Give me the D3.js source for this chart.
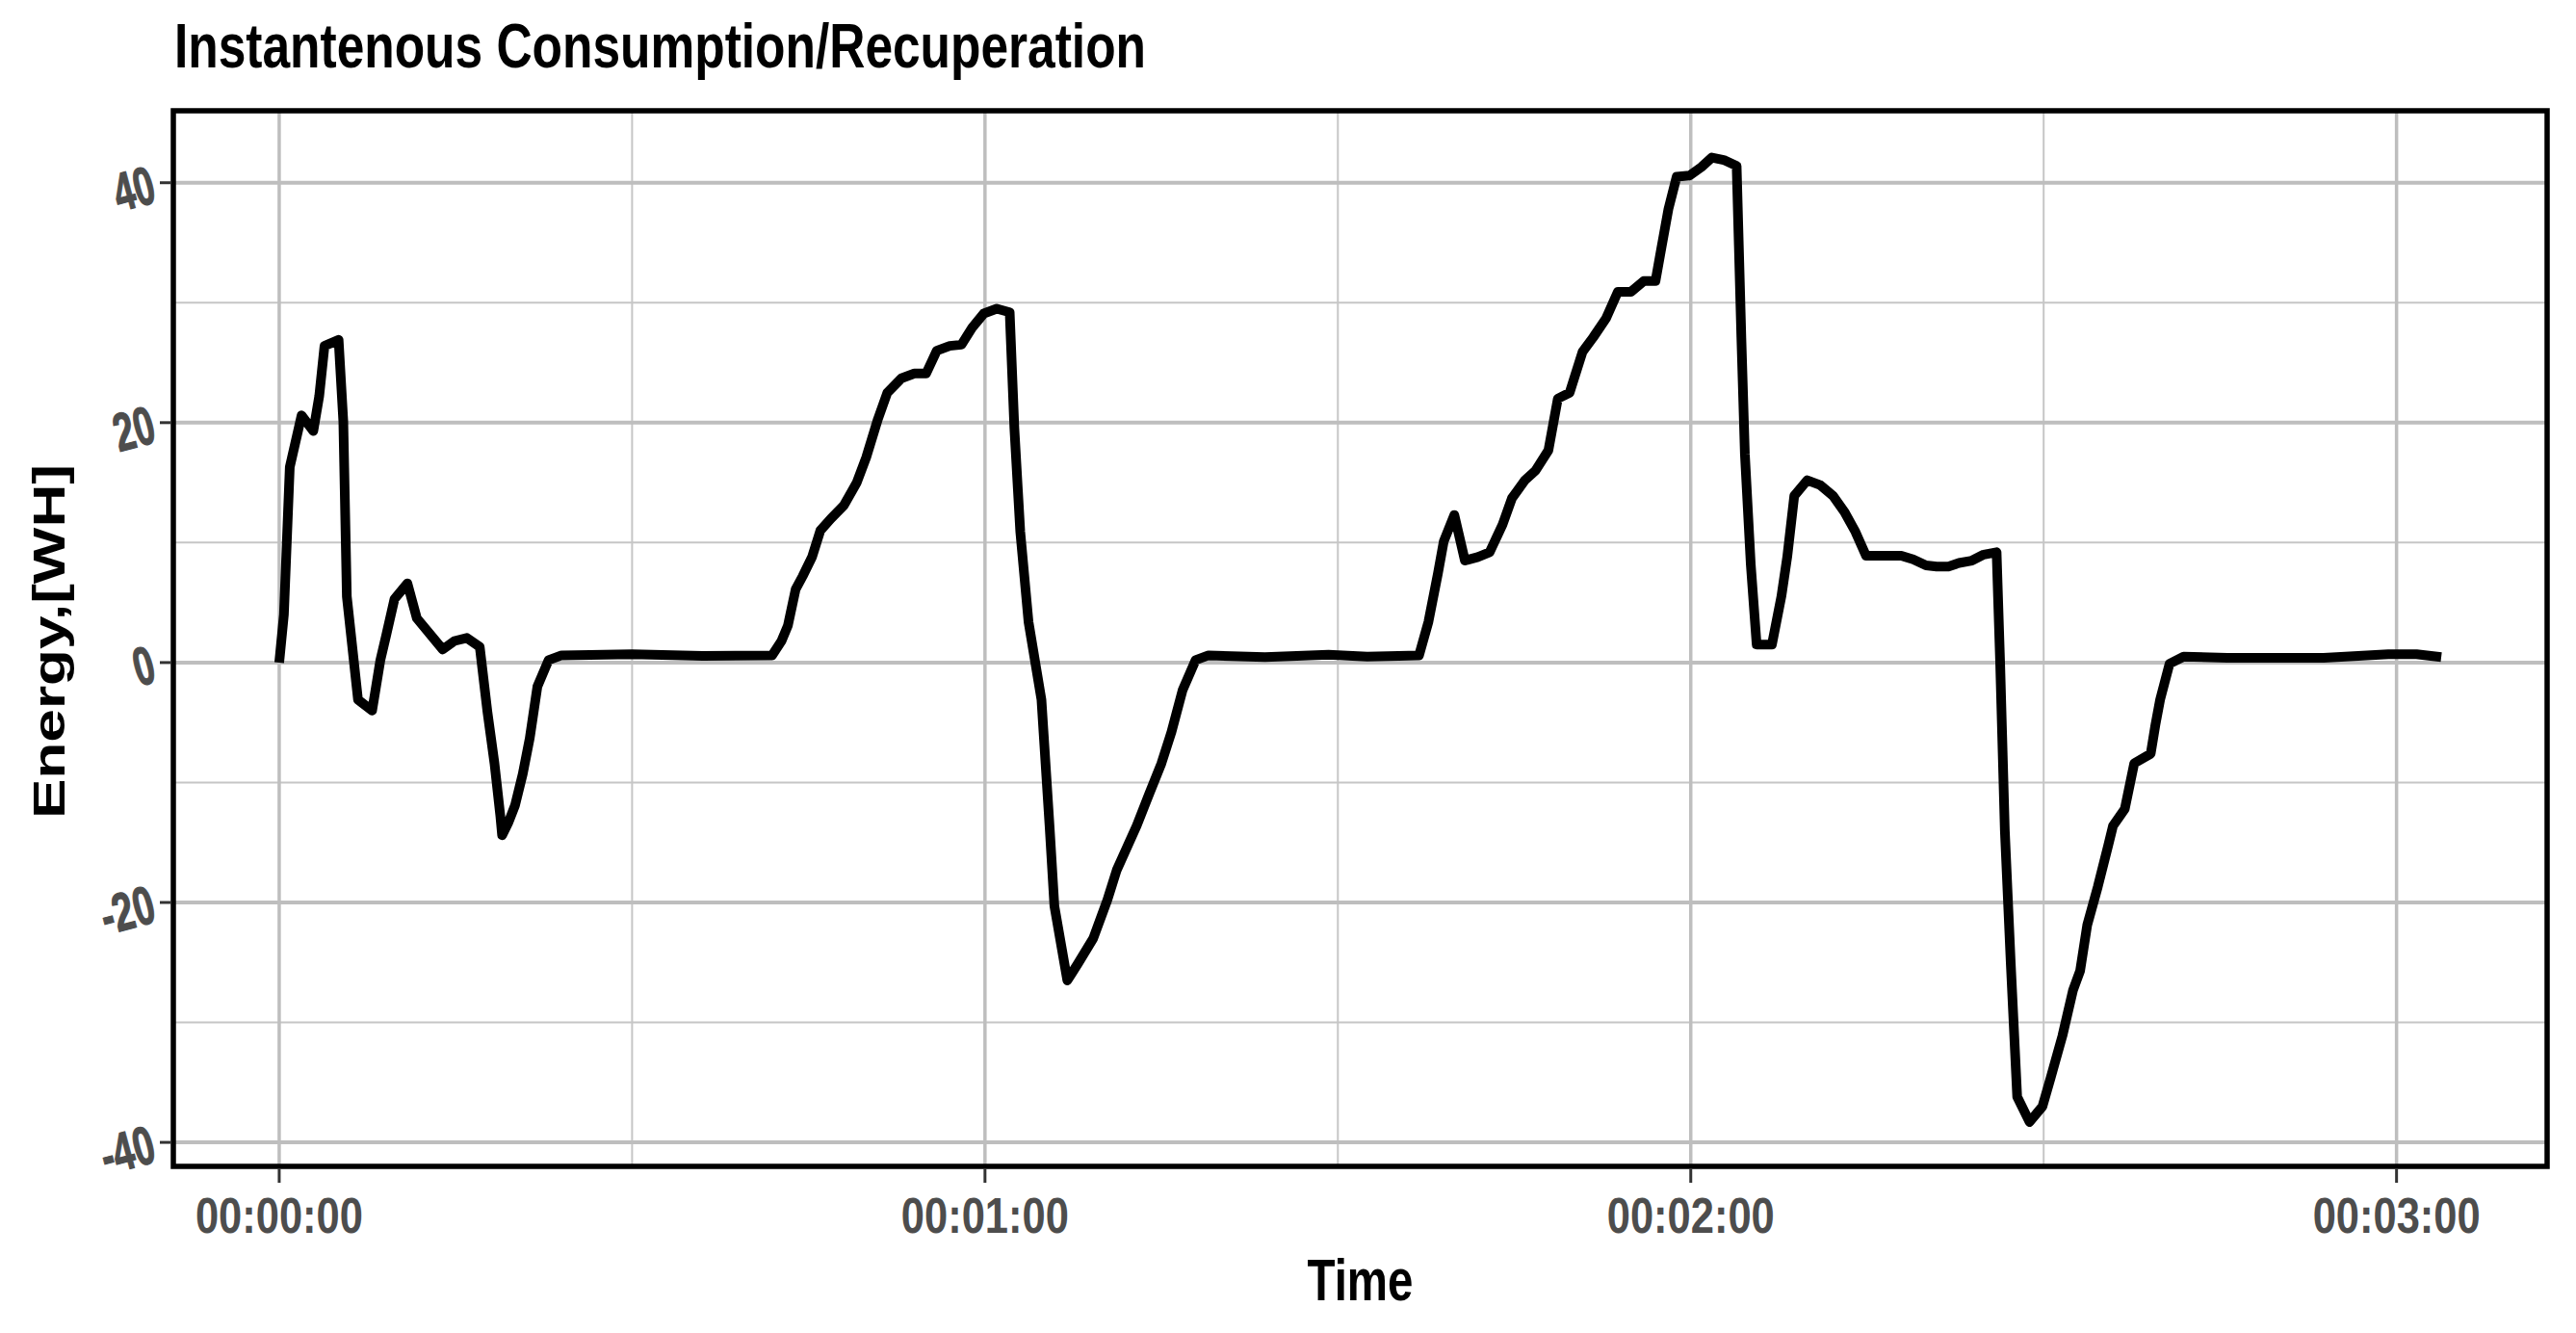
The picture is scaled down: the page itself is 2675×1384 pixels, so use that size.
<!DOCTYPE html>
<html>
<head>
<meta charset="utf-8">
<script src="https://cdn.jsdelivr.net/npm/d3@7"></script>
<style>
  html, body { margin: 0; padding: 0; background: #fff; }
  svg { display: block; }
  text { font-family: "Liberation Sans Narrow", "Liberation Sans", Arial, sans-serif; font-weight: bold; }
</style>
</head>
<body>
<svg id="chart" width="2675" height="1384"></svg>
<script>
// ---- data (seconds from start, energy in WH) ----
const timeSec = [0,0.4,0.9,1.9,2.9,3.4,3.85,5.05,5.45,5.75,6.7,7.9,8.6,9.1,9.8,10.9,11.7,13.9,14.9,15.95,17.05,17.7,18.3,18.8,18.95,19.5,20.05,20.7,21.3,21.95,22.9,24.0,30,36,41.9,42.7,43.25,43.9,44.5,45.3,46.0,46.9,48.0,49.1,49.9,50.9,51.7,52.9,54.0,55.0,55.9,57.0,58.0,58.9,59.9,61.0,62.1,62.5,63.0,63.7,64.8,65.5,65.9,67.0,67.9,69.2,70.4,71.2,72.9,73.9,75.0,75.85,76.8,77.9,79.0,83.8,89.2,92.5,96.9,97.7,98.5,99.0,99.9,100.8,101.9,102.9,104.0,104.8,105.9,106.8,107.9,108.7,109.7,110.8,111.7,112.8,113.8,114.9,116.0,117.0,117.6,118.1,118.8,119.9,120.9,121.8,122.8,123.9,124.3,124.6,125.1,125.6,126.9,127.7,128.2,128.8,129.9,131.0,132.1,133.1,134.0,134.9,135.9,136.9,137.9,138.9,140.0,140.9,141.9,142.8,143.9,144.9,146.0,146.3,146.7,147.2,147.75,148.8,149.9,150.6,151.6,152.5,153.1,153.7,154.6,155.5,155.9,156.9,157.7,159.1,159.5,159.9,160.7,161.9,165.6,173.8,179.3,181.7,183.8];
const energyWH = [0,4,16.3,20.6,19.3,22.2,26.4,26.9,20.1,5.5,-3.1,-4.0,0.2,2.3,5.3,6.6,3.7,1.1,1.8,2.05,1.3,-4.1,-8.4,-12.8,-14.4,-13.3,-11.9,-9.3,-6.3,-2.0,0.2,0.6,0.7,0.55,0.6,1.8,3.1,6.1,7.2,8.8,11.0,12.0,13.1,15.0,17.1,20.3,22.5,23.7,24.1,24.1,26.0,26.4,26.5,27.9,29.1,29.5,29.2,19.5,10.9,3.4,-3.1,-13.8,-20.3,-26.5,-25.1,-23.0,-19.8,-17.3,-13.6,-11.1,-8.4,-5.8,-2.3,0.2,0.6,0.45,0.65,0.5,0.6,3.4,7.4,10.1,12.3,8.5,8.8,9.2,11.5,13.7,15.2,16.0,17.7,22.0,22.5,25.9,27.1,28.7,30.9,30.9,31.8,31.8,35.1,37.8,40.5,40.6,41.3,42.1,41.9,41.4,27.1,17.4,8.2,1.5,1.5,5.5,8.8,13.9,15.2,14.8,13.9,12.5,10.9,8.9,8.9,8.9,8.9,8.6,8.1,8.0,8.0,8.3,8.5,9.0,9.2,0,-14,-25,-36.2,-38.3,-37.0,-34.6,-31.1,-27.3,-25.7,-21.9,-18.7,-15.2,-13.6,-12.2,-8.4,-7.6,-5.2,-3.1,-0.1,0.5,0.4,0.4,0.7,0.7,0.45];

const xMajorTicks = [0, 60, 120, 180];
const xMinorTicks = [30, 90, 150];
const xTickLabels = ["00:00:00", "00:01:00", "00:02:00", "00:03:00"];
const yMajorTicks = [-40, -20, 0, 20, 40];
const yMinorTicks = [-30, -10, 10, 30];
const yTickLabels = ["-40", "-20", "0", "20", "40"];

const titleText = "Instantenous Consumption/Recuperation";
const xTitle = "Time";
const yTitle = "Energy,[WH]";

// ---- layout ----
const panel = { left: 180, right: 2645, top: 115, bottom: 1211 };

const svg = d3.select("#chart");
const x = d3.scaleLinear().domain([-9, 192.8]).range([panel.left, panel.right]);
const y = d3.scaleLinear().domain([-42.0, 46.0]).range([panel.bottom, panel.top]);

svg.append("rect").attr("width", 2675).attr("height", 1384).attr("fill", "#fff");

const grid = svg.append("g");
// minor grid
grid.selectAll(".xminor").data(xMinorTicks).enter().append("line")
  .attr("x1", d => x(d)).attr("x2", d => x(d))
  .attr("y1", panel.top).attr("y2", panel.bottom)
  .attr("stroke", "#c6c6c6").attr("stroke-width", 2);
grid.selectAll(".yminor").data(yMinorTicks).enter().append("line")
  .attr("y1", d => y(d)).attr("y2", d => y(d))
  .attr("x1", panel.left).attr("x2", panel.right)
  .attr("stroke", "#c6c6c6").attr("stroke-width", 2);
// major grid
grid.selectAll(".xmajor").data(xMajorTicks).enter().append("line")
  .attr("x1", d => x(d)).attr("x2", d => x(d))
  .attr("y1", panel.top).attr("y2", panel.bottom)
  .attr("stroke", "#bebebe").attr("stroke-width", 3.5);
grid.selectAll(".ymajor").data(yMajorTicks).enter().append("line")
  .attr("y1", d => y(d)).attr("y2", d => y(d))
  .attr("x1", panel.left).attr("x2", panel.right)
  .attr("stroke", "#bebebe").attr("stroke-width", 4);

// data line
const pts = timeSec.map((t, i) => [t, energyWH[i]]);
const line = d3.line().x(d => x(d[0])).y(d => y(d[1]));
svg.append("path").datum(pts)
  .attr("d", line)
  .attr("fill", "none").attr("stroke", "#000")
  .attr("stroke-width", 10).attr("stroke-linejoin", "round").attr("stroke-linecap", "butt");

// panel border
svg.append("rect")
  .attr("x", panel.left).attr("y", panel.top)
  .attr("width", panel.right - panel.left).attr("height", panel.bottom - panel.top)
  .attr("fill", "none").attr("stroke", "#000").attr("stroke-width", 5.5);

// x axis ticks + labels
const xAxis = svg.append("g");
xAxis.selectAll(".xt").data(xMajorTicks).enter().append("line")
  .attr("x1", d => x(d)).attr("x2", d => x(d))
  .attr("y1", panel.bottom + 2.5).attr("y2", panel.bottom + 17)
  .attr("stroke", "#333").attr("stroke-width", 3);
xAxis.selectAll(".xl").data(xMajorTicks).enter().append("text")
  .attr("x", d => x(d)).attr("y", 1280)
  .attr("text-anchor", "middle")
  .attr("font-size", 51).attr("fill", "#4d4d4d")
  .attr("textLength", 174).attr("lengthAdjust", "spacingAndGlyphs")
  .text((d, i) => xTickLabels[i]);

// y axis ticks + labels
const yAxis = svg.append("g");
yAxis.selectAll(".yt").data(yMajorTicks).enter().append("line")
  .attr("x1", panel.left - 14).attr("x2", panel.left - 2.5)
  .attr("y1", d => y(d)).attr("y2", d => y(d))
  .attr("stroke", "#333").attr("stroke-width", 3);
const yLabelLen = { "-40": 56, "-20": 56, "0": 21, "20": 42, "40": 42 };
yAxis.selectAll(".yl").data(yMajorTicks).enter().append("text")
  .attr("transform", d => `translate(159,${y(d)}) rotate(-15)`)
  .attr("text-anchor", "end")
  .attr("dy", "0.36em")
  .attr("font-size", 56).attr("fill", "#4d4d4d")
  .attr("stroke", "#4d4d4d").attr("stroke-width", 1.2)
  .attr("textLength", (d, i) => yLabelLen[yTickLabels[i]]).attr("lengthAdjust", "spacingAndGlyphs")
  .text((d, i) => yTickLabels[i]);

// titles
svg.append("text")
  .attr("x", 181).attr("y", 70)
  .attr("font-size", 65).attr("fill", "#000")
  .attr("textLength", 1009).attr("lengthAdjust", "spacingAndGlyphs")
  .text(titleText);

svg.append("text")
  .attr("x", (panel.left + panel.right) / 2).attr("y", 1350)
  .attr("text-anchor", "middle")
  .attr("font-size", 62).attr("fill", "#000")
  .attr("textLength", 110).attr("lengthAdjust", "spacingAndGlyphs")
  .text(xTitle);

svg.append("text")
  .attr("transform", `translate(67,666) rotate(-90)`)
  .attr("text-anchor", "middle")
  .attr("font-size", 46).attr("fill", "#000")
  .attr("textLength", 368).attr("lengthAdjust", "spacingAndGlyphs")
  .text(yTitle);
</script>
</body>
</html>
